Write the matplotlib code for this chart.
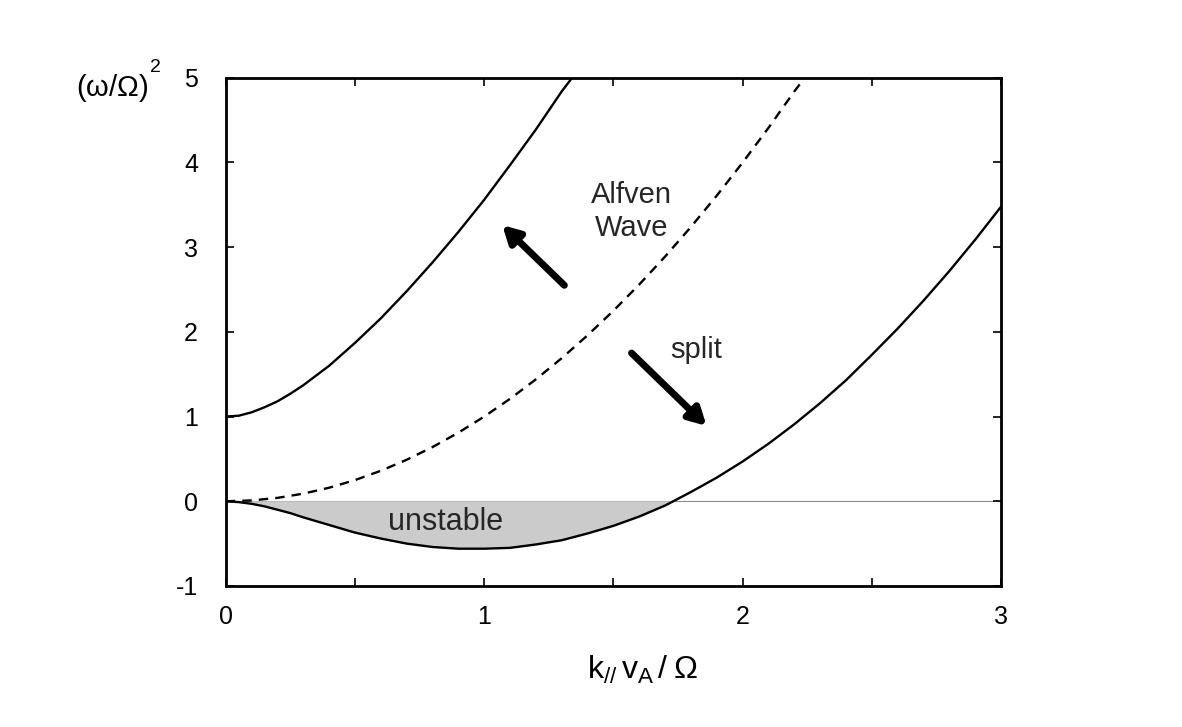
"""Dispersion diagram: (omega/Omega)^2 versus k_par v_A / Omega."""

import matplotlib
matplotlib.use("Agg")
import matplotlib.pyplot as plt
from matplotlib.ticker import MultipleLocator, NullFormatter

plt.rcParams["font.family"] = ["Liberation Sans", "DejaVu Sans"]
plt.rcParams["mathtext.fontset"] = "custom"
plt.rcParams["mathtext.rm"] = "Liberation Sans"
plt.rcParams["mathtext.it"] = "Liberation Sans:italic"
plt.rcParams["axes.unicode_minus"] = False

# values
k_lower = [0.0, 0.05, 0.1, 0.15, 0.2, 0.25, 0.3, 0.4, 0.5, 0.6, 0.7, 0.8, 0.9, 1.0,
           1.1, 1.2, 1.3, 1.4, 1.5, 1.6, 1.7, 1.8, 1.9, 2.0,
           2.1, 2.2, 2.3, 2.4, 2.5, 2.6, 2.7, 2.8, 2.9, 3.0]
w2_lower = [0.0, -0.01, -0.03, -0.06, -0.10, -0.14, -0.19, -0.28, -0.37, -0.44, -0.50,
            -0.54, -0.56, -0.56, -0.55, -0.51, -0.46, -0.38, -0.29, -0.18, -0.05,
            0.11, 0.28, 0.47, 0.68, 0.91, 1.16, 1.43, 1.73, 2.04, 2.37, 2.72, 3.09, 3.48]

k_upper = [0.0, 0.05, 0.1, 0.15, 0.2, 0.25, 0.3, 0.4, 0.5, 0.6, 0.7, 0.8, 0.9, 1.0,
           1.1, 1.2, 1.3, 1.34]
w2_upper = [1.0, 1.01, 1.05, 1.11, 1.18, 1.27, 1.37, 1.60, 1.87, 2.16, 2.48, 2.82,
            3.18, 3.56, 3.97, 4.39, 4.84, 5.0]

k_alfven = [0.0, 0.1, 0.2, 0.3, 0.4, 0.5, 0.6, 0.7, 0.8, 0.9, 1.0,
            1.1, 1.2, 1.3, 1.4, 1.5, 1.6, 1.7, 1.8, 1.9, 2.0,
            2.1, 2.2, 2.24]
w2_alfven = [0.0, 0.01, 0.04, 0.09, 0.16, 0.25, 0.36, 0.49, 0.64, 0.81, 1.0,
             1.21, 1.44, 1.69, 1.96, 2.25, 2.56, 2.89, 3.24, 3.61, 4.0,
             4.41, 4.84, 5.0]

fig = plt.figure(figsize=(11.82, 7.27), dpi=100)
ax = fig.add_axes([0.191, 0.194, 0.656, 0.699])

ax.axhline(0.0, color="0.55", lw=0.8, zorder=1)
ax.fill_between(k_lower, w2_lower, 0.0,
                where=[w <= 0 for w in w2_lower], interpolate=True,
                facecolor="#cbcbcb", edgecolor="none", zorder=1)
ax.plot(k_lower, w2_lower, color="k", lw=1.7, zorder=3)
ax.plot(k_upper, w2_upper, color="k", lw=1.7, zorder=3)
ax.plot(k_alfven, w2_alfven, color="k", lw=1.7, ls=(0, (4, 3)), zorder=3)

# arrows showing the mode splitting
arrow_kw = dict(arrowstyle="-|>,head_length=1.0,head_width=0.55",
                color="k", lw=5, shrinkA=0, shrinkB=0)
ax.annotate("", xy=(1.07, 3.26), xytext=(1.31, 2.55), arrowprops=arrow_kw)
ax.annotate("", xy=(1.86, 0.89), xytext=(1.57, 1.75), arrowprops=arrow_kw)

ax.text(1.57, 3.42, "Alfven\nWave", ha="center", va="center",
        fontsize=21, linespacing=1.2, color="0.15")
ax.text(1.82, 1.79, "split", ha="center", va="center", fontsize=21,
        color="0.15")
ax.text(0.85, -0.25, "unstable", ha="center", va="center", fontsize=22,
        color="0.15")

ax.set_xlim(0, 3)
ax.set_ylim(-1, 5)
ax.xaxis.set_major_locator(MultipleLocator(1))
ax.xaxis.set_minor_locator(MultipleLocator(0.5))
ax.xaxis.set_minor_formatter(NullFormatter())
ax.yaxis.set_major_locator(MultipleLocator(1))
ax.tick_params(which="both", direction="in", top=True, right=True,
               length=6, width=1.2, labelsize=18, colors="k")
ax.tick_params(axis="x", pad=14)
ax.tick_params(axis="y", pad=20)
for sp in ax.spines.values():
    sp.set_linewidth(2.0)

ax.text(-0.193, 0.98, r"$\mathregular{(\omega/\Omega)}$", transform=ax.transAxes,
        ha="left", va="center", fontsize=21)
ax.text(-0.098, 1.02, "2", transform=ax.transAxes,
        ha="left", va="center", fontsize=14)
ax.text(0.538, -0.165, r"$\mathregular{k_{//}\,v_A\,/\;\Omega}$",
        transform=ax.transAxes, ha="center", va="center", fontsize=23)

fig.savefig("out.png", dpi=100)
